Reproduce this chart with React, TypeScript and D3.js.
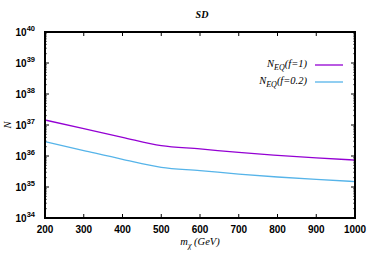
import { useEffect, useRef } from 'react';
import * as d3 from 'd3';

const massGeV = [200, 300, 400, 500, 600, 700, 800, 900, 1000];
const nEqF1 = [1.45e37, 7.6e36, 4.0e36, 2.15e36, 1.7e36, 1.3e36, 1.05e36, 8.7e35, 7.4e35];
const nEqF02 = [2.9e36, 1.5e36, 7.8e35, 4.3e35, 3.4e35, 2.6e35, 2.1e35, 1.75e35, 1.5e35];
const xTicks = [200, 300, 400, 500, 600, 700, 800, 900, 1000];
const yExponents = [34, 35, 36, 37, 38, 39, 40];
const seriesNames = ['f=1', 'f=0.2'];
const seriesColors = ['#9400d3', '#56b4e9'];

export default function App() {
  const svgRef = useRef<SVGSVGElement>(null);

  useEffect(() => {
    const svg = d3.select(svgRef.current);
    svg.selectAll('*').remove();

    const W = 374, H = 262;
    const m = { top: 32, right: 19, bottom: 44, left: 45 };
    const w = W - m.left - m.right;
    const h = H - m.top - m.bottom;

    const g = svg.append('g').attr('transform', `translate(${m.left},${m.top})`);

    const x = d3.scaleLinear().domain([200, 1000]).range([0, w]);
    const y = d3.scaleLog().domain([1e34, 1e40]).range([h, 0]);

    // ticks inward on all sides
    const tickFont = 'Liberation Sans, Arial, sans-serif';
    xTicks.forEach(t => {
      g.append('line').attr('x1', x(t)).attr('x2', x(t)).attr('y1', h).attr('y2', h - 4)
        .attr('stroke', '#000').attr('stroke-width', 1);
      g.append('line').attr('x1', x(t)).attr('x2', x(t)).attr('y1', 0).attr('y2', 4)
        .attr('stroke', '#000').attr('stroke-width', 1);
      g.append('text').attr('x', x(t)).attr('y', h + 15)
        .attr('text-anchor', 'middle').attr('font-family', tickFont)
        .attr('font-weight', 'bold').attr('font-size', 10).text(t);
    });

    yExponents.forEach((e, i) => {
      const yy = y(Math.pow(10, e));
      [[0, 4], [w, w - 4]].forEach(([a, b]) => {
        g.append('line').attr('x1', a).attr('x2', b).attr('y1', yy).attr('y2', yy)
          .attr('stroke', '#000').attr('stroke-width', 1);
      });
      if (i < yExponents.length - 1) {
        for (let k = 2; k <= 9; k++) {
          const ym = y(k * Math.pow(10, e));
          [[0, 2], [w, w - 2]].forEach(([a, b]) => {
            g.append('line').attr('x1', a).attr('x2', b).attr('y1', ym).attr('y2', ym)
              .attr('stroke', '#000').attr('stroke-width', 0.6);
          });
        }
      }
      const t = g.append('text').attr('x', -10).attr('y', yy + 3.5)
        .attr('text-anchor', 'end').attr('font-family', tickFont)
        .attr('font-weight', 'bold').attr('font-size', 10);
      t.append('tspan').text('10');
      t.append('tspan').attr('dy', -5).attr('font-size', 7.5).text(e);
    });

    const series = [nEqF1, nEqF02];
    const line = d3.line<number>()
      .x((_, i) => x(massGeV[i]))
      .y(d => y(d))
      .curve(d3.curveMonotoneX);

    series.forEach((s, i) => {
      g.append('path').datum(s)
        .attr('fill', 'none').attr('stroke', seriesColors[i])
        .attr('stroke-width', 1.3).attr('d', line);
    });

    // legend
    const serif = 'Liberation Serif, Times New Roman, serif';
    seriesNames.forEach((name, i) => {
      const ly = 33 + i * 17;
      const t = g.append('text').attr('x', 262).attr('y', ly + 2)
        .attr('text-anchor', 'end').attr('font-family', serif)
        .attr('font-style', 'italic').attr('font-size', 10.5);
      t.append('tspan').text('N');
      t.append('tspan').attr('dy', 3).attr('font-size', 8).text('EQ');
      t.append('tspan').attr('dy', -3).text(`(${name})`);
      g.append('line').attr('x1', 270).attr('x2', 298).attr('y1', ly).attr('y2', ly)
        .attr('stroke', seriesColors[i]).attr('stroke-width', 1.3);
    });

    // frame
    g.append('rect').attr('x', 0).attr('y', 0).attr('width', w).attr('height', h)
      .attr('fill', 'none').attr('stroke', '#000').attr('stroke-width', 2);

    // title
    svg.append('text').attr('x', m.left + w / 2 + 2).attr('y', 18)
      .attr('text-anchor', 'middle').attr('font-family', serif)
      .attr('font-style', 'italic').attr('font-weight', 'bold').attr('font-size', 10)
      .text('SD');

    // axis labels
    const xl = svg.append('text').attr('x', m.left + w / 2).attr('y', 245)
      .attr('text-anchor', 'middle').attr('font-family', serif)
      .attr('font-style', 'italic').attr('font-size', 10.5);
    xl.append('tspan').text('m');
    xl.append('tspan').attr('dy', 3).attr('font-size', 8).text('χ');
    xl.append('tspan').attr('dy', -3).text(' (GeV)');

    svg.append('text')
      .attr('transform', `translate(11,${m.top + y(1e37)}) rotate(-90)`)
      .attr('text-anchor', 'middle').attr('font-family', serif)
      .attr('font-style', 'italic').attr('font-size', 10.5)
      .text('N');
  }, []);

  return (
    <svg ref={svgRef} width={374} height={262}
      style={{ position: 'absolute', left: 0, top: 0, background: '#fff' }} />
  );
}
